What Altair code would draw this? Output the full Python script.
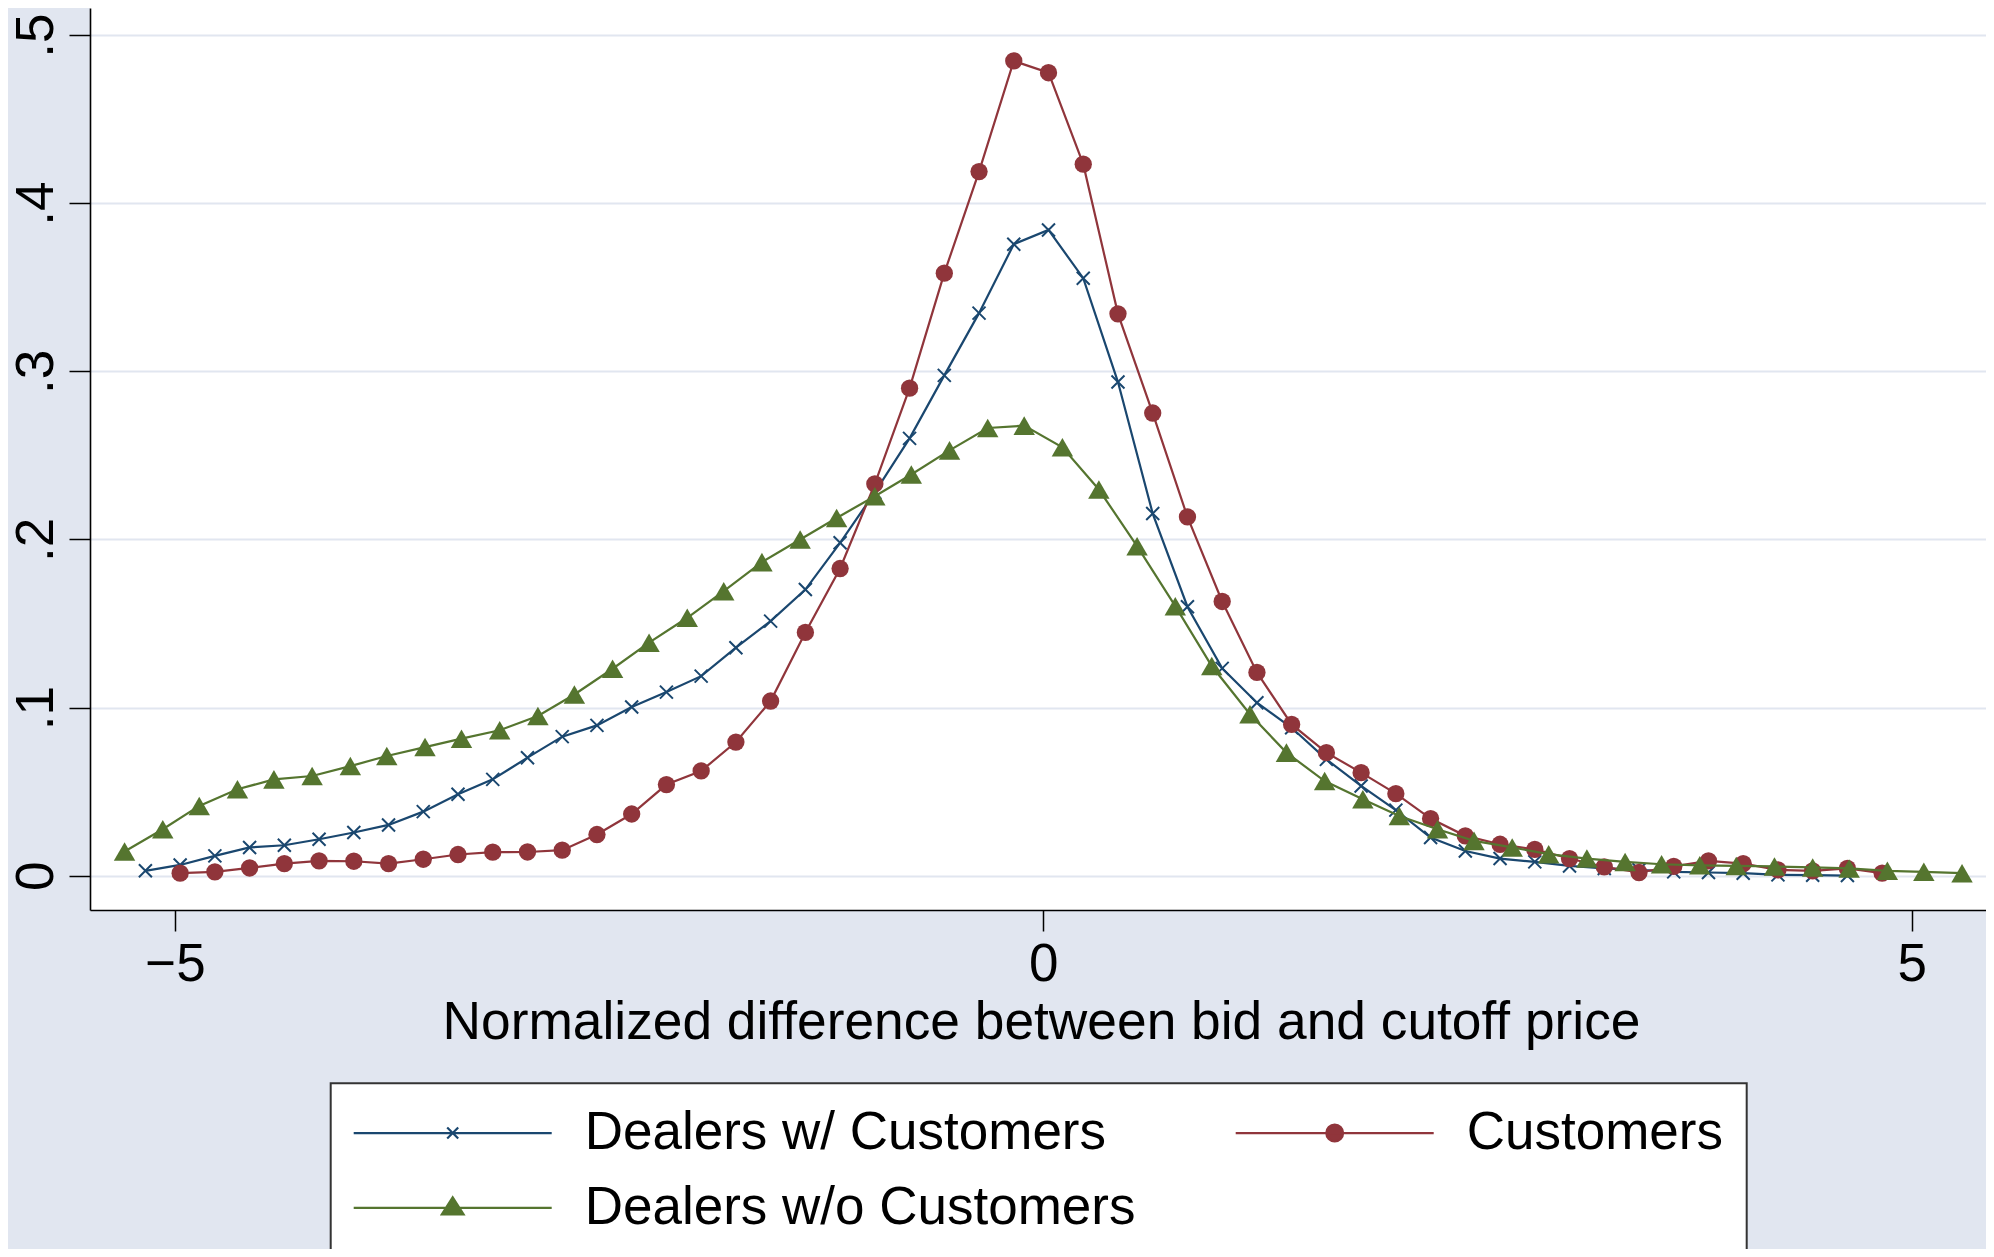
import altair as alt
import pandas as pd

# ---------------- data ----------------
series_names = ["Dealers w/ Customers", "Customers", "Dealers w/o Customers"]
series_colors = ["#1A476F", "#90353B", "#55752F"]

dwc_x = [-5.17, -4.97, -4.77, -4.57, -4.37, -4.17, -3.97, -3.77, -3.57, -3.37,
         -3.17, -2.97, -2.77, -2.57, -2.37, -2.17, -1.97, -1.77, -1.57, -1.37,
         -1.17, -0.97, -0.77, -0.57, -0.37, -0.17, 0.03, 0.23, 0.43, 0.63,
         0.83, 1.03, 1.23, 1.43, 1.63, 1.83, 2.03, 2.23, 2.43, 2.63,
         2.83, 3.03, 3.23, 3.43, 3.63, 3.83, 4.03, 4.23, 4.43, 4.63]
dwc_y = [0.0029, 0.0064, 0.0118, 0.0168, 0.0181, 0.0217, 0.0257, 0.0302, 0.0381, 0.0484,
         0.0573, 0.0702, 0.0827, 0.0894, 0.1003, 0.1092, 0.1187, 0.1356, 0.1514, 0.1702,
         0.1980, 0.2280, 0.2601, 0.2976, 0.3346, 0.3756, 0.3841, 0.3554, 0.2936, 0.2154,
         0.1600, 0.1233, 0.1029, 0.0880, 0.0692, 0.0534, 0.0390, 0.0227, 0.0147, 0.0102,
         0.0082, 0.0058, 0.0043, 0.0035, 0.0023, 0.0019, 0.0015, 0.0005, 0.0003, 0.0001]

cust_x = [-4.97, -4.77, -4.57, -4.37, -4.17, -3.97, -3.77, -3.57, -3.37, -3.17,
          -2.97, -2.77, -2.57, -2.37, -2.17, -1.97, -1.77, -1.57, -1.37, -1.17,
          -0.97, -0.77, -0.57, -0.37, -0.17, 0.03, 0.23, 0.43, 0.63, 0.83,
          1.03, 1.23, 1.43, 1.63, 1.83, 2.03, 2.23, 2.43, 2.63, 2.83,
          3.03, 3.23, 3.43, 3.63, 3.83, 4.03, 4.23, 4.43, 4.63, 4.83]
cust_y = [0.0015, 0.0023, 0.0046, 0.0072, 0.0088, 0.0086, 0.0072, 0.0098, 0.0126, 0.0140,
          0.0141, 0.0152, 0.0245, 0.0367, 0.0542, 0.0623, 0.0795, 0.1039, 0.1447, 0.1827,
          0.2330, 0.2900, 0.3584, 0.4188, 0.4846, 0.4776, 0.4232, 0.3342, 0.2752, 0.2134,
          0.1631, 0.1209, 0.0900, 0.0732, 0.0613, 0.0488, 0.0340, 0.0237, 0.0187, 0.0157,
          0.0102, 0.0052, 0.0019, 0.0055, 0.0088, 0.0072, 0.0035, 0.0029, 0.0043, 0.0015]

dwoc_x = [-5.29, -5.07, -4.86, -4.64, -4.43, -4.21, -3.99, -3.78, -3.56, -3.35,
          -3.13, -2.91, -2.70, -2.48, -2.27, -2.05, -1.84, -1.62, -1.40, -1.19,
          -0.97, -0.76, -0.54, -0.32, -0.11, 0.11, 0.32, 0.54, 0.76, 0.97,
          1.19, 1.40, 1.62, 1.84, 2.05, 2.27, 2.48, 2.70, 2.91, 3.13,
          3.35, 3.56, 3.78, 3.99, 4.21, 4.43, 4.64, 4.86, 5.07, 5.29]
dwoc_y = [0.0144, 0.0276, 0.0415, 0.0514, 0.0573, 0.0593, 0.0652, 0.0712, 0.0765, 0.0815,
          0.0865, 0.0950, 0.1078, 0.1231, 0.1386, 0.1534, 0.1692, 0.1865, 0.2000, 0.2128,
          0.2257, 0.2386, 0.2530, 0.2663, 0.2677, 0.2548, 0.2297, 0.1960, 0.1603, 0.1247,
          0.0960, 0.0732, 0.0563, 0.0455, 0.0355, 0.0276, 0.0207, 0.0168, 0.0128, 0.0102,
          0.0082, 0.0068, 0.0062, 0.0058, 0.0055, 0.0049, 0.0043, 0.0029, 0.0023, 0.0015]

x_ticks = [-5, 0, 5]
x_tick_labels = ["\u22125", "0", "5"]
y_ticks = [0, 0.1, 0.2, 0.3, 0.4, 0.5]
y_tick_labels = ["0", ".1", ".2", ".3", ".4", ".5"]
x_title = "Normalized difference between bid and cutoff price"

# ---------------- table ----------------
frames = []
for name, xs, ys in zip(series_names, [dwc_x, cust_x, dwoc_x], [dwc_y, cust_y, dwoc_y]):
    frames.append(pd.DataFrame({"series": name, "x": xs, "y": ys}))
df = pd.concat(frames, ignore_index=True)

# ---------------- styles ----------------
FONT = "Liberation Sans"
FS = 53
BG = "#E1E6F0"
GRID = "#E1E6F0"

# legend symbols: line + marker, as custom paths (unit = sqrt(size)/2 = 10px)
legend_paths = [
    "M-9.9,0L9.9,0M-0.55,-0.55L0.55,0.55M-0.55,0.55L0.55,-0.55",
    "M-9.9,0L9.9,0M-0.84,0A0.84,0.84,0,1,1,0.84,0A0.84,0.84,0,1,1,-0.84,0Z",
    "M-9.9,0L9.9,0M0,-1.05L1.09,0.66L-1.09,0.66Z",
]


def pick_expr(values):
    expr = "'" + values[-1] + "'"
    for name, v in reversed(list(zip(series_names[:-1], values[:-1]))):
        expr = "datum.value === '" + name + "' ? '" + v + "' : (" + expr + ")"
    return expr


def list_label_expr(values, labels):
    parts = "'" + labels[-1] + "'"
    for v, lab in reversed(list(zip(values[:-1], labels[:-1]))):
        parts = "abs(datum.value - (" + str(v) + ")) < 1e-6 ? '" + lab + "' : (" + parts + ")"
    return parts


x_scale = alt.Scale(domain=[-5.489, 5.428], nice=False, zero=False)
y_scale = alt.Scale(domain=[-0.0204, 0.5161], nice=False, zero=False)
color_scale = alt.Scale(domain=series_names, range=series_colors)

x_axis = alt.Axis(
    values=x_ticks, labelExpr=list_label_expr(x_ticks, x_tick_labels),
    title=x_title, grid=False, tickSize=21, tickWidth=1.5, tickColor="black",
    domainColor="black", domainWidth=1.6, labelFont=FONT, labelFontSize=FS,
    labelColor="black", labelPadding=7, labelFlush=False, labelOverlap=False,
    titleFont=FONT, titleFontSize=53.3, titleFontWeight="normal", titleColor="black",
    titleBaseline="alphabetic", titleY=128.3, titleX=951, titleAlign="center",
)
y_axis = alt.Axis(
    values=y_ticks, labelExpr=list_label_expr(y_ticks, y_tick_labels),
    title=None, grid=True, gridColor=GRID, gridWidth=2.2,
    tickSize=21, tickWidth=1.5, tickColor="black",
    domainColor="black", domainWidth=1.6, labelFont=FONT, labelFontSize=FS,
    labelColor="black", labelAngle=270, labelAlign="center",
    labelBaseline="alphabetic", labelPadding=17, labelFlush=False,
    labelOverlap=False,
)

legend = alt.Legend(
    title=None, orient="none", legendX=240.7, legendY=1075.3, columns=2,
    direction="horizontal",
    gridAlign="each", labelFont=FONT, labelFontSize=FS, labelColor="black",
    labelLimit=1000, symbolSize=400, symbolStrokeWidth=2.2,
    symbolOffset=72.5, labelOffset=105.5, rowPadding=21, columnPadding=95,
    padding=23, fillColor="white", strokeColor="#333333",
    symbolOpacity=1,
    symbolType=alt.ExprRef(expr=pick_expr(legend_paths)),
    symbolFillColor=alt.ExprRef(expr=pick_expr(series_colors)),
    symbolStrokeColor=alt.ExprRef(expr=pick_expr(series_colors)),
)

base = alt.Chart(df).encode(
    x=alt.X("x:Q", scale=x_scale, axis=x_axis),
    y=alt.Y("y:Q", scale=y_scale, axis=y_axis),
    color=alt.Color("series:N", scale=color_scale, legend=legend),
)

marker_styles = [
    dict(shape="M-1,-1L1,1M-1,1L1,-1", size=169, filled=False, strokeWidth=2.0, opacity=1),
    dict(shape="circle", size=300, filled=True, opacity=1),
    dict(shape="triangle-up", size=460, filled=True, opacity=1),
]

layers = []
for name, mk in zip(series_names, marker_styles):
    sub = base.transform_filter(alt.datum.series == name)
    layers.append(sub.mark_line(strokeWidth=2.2))
    layers.append(sub.mark_point(**mk))

chart = alt.layer(*layers).properties(
    width=1896, height=902,
    padding={"left": 82, "top": 0, "right": 0, "bottom": 339},
    autosize=alt.AutoSizeParams(type="none"),
    background=BG,
).configure_view(fill="white", strokeWidth=0).configure_legend(strokeWidth=2)

chart.save("out.html", embed_options={"renderer": "svg", "actions": False})
